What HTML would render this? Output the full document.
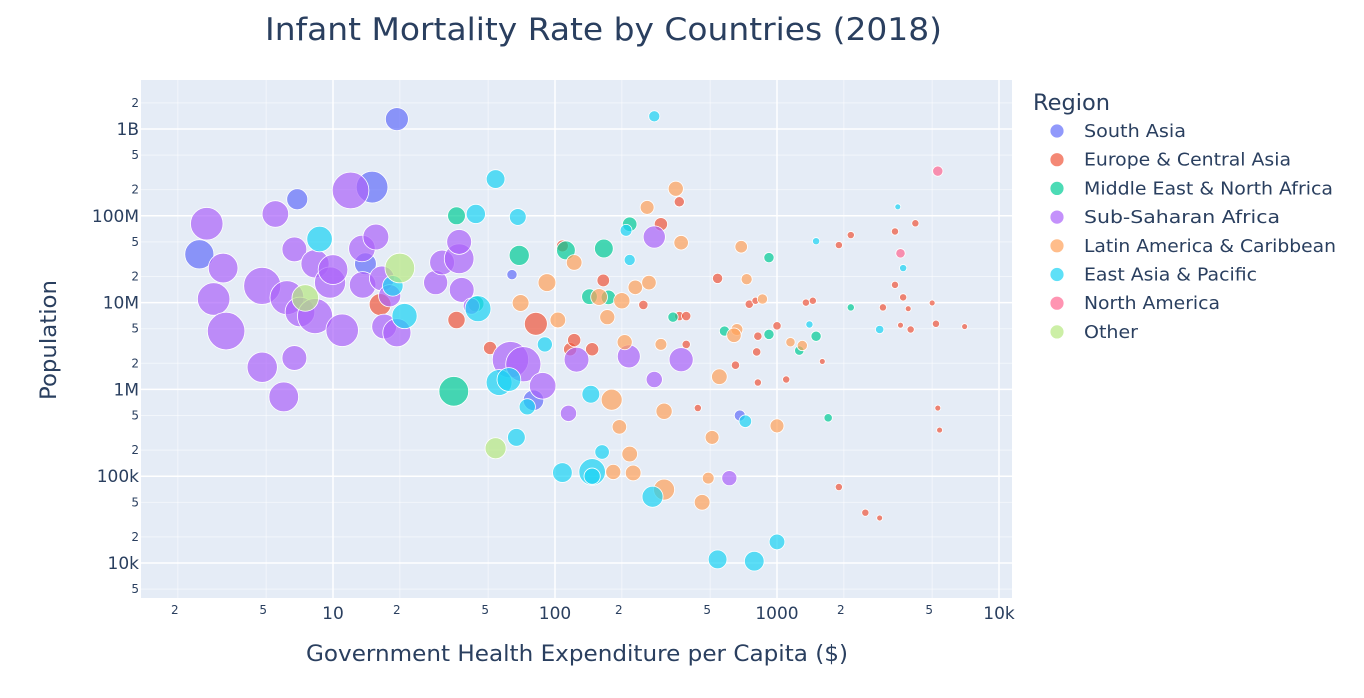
<!DOCTYPE html>
<html><head><meta charset="utf-8">
<style>
body{margin:0;background:#fff;}
svg{display:block;font-family:"DejaVu Sans","Liberation Sans",sans-serif;}
</style></head>
<body>
<svg id="chart" width="1364" height="698">
<rect x="0" y="0" width="1364" height="698" fill="#fff"/>
<rect x="141" y="80" width="871" height="518" fill="#E5ECF6"/>
<defs><clipPath id="clip"><rect x="141" y="80" width="871" height="518"/></clipPath></defs>
<g id="grid"></g>
<g id="marks" clip-path="url(#clip)"></g>
<g id="ticks"></g>
<text x="265" y="40" textLength="677" lengthAdjust="spacingAndGlyphs" font-size="31" fill="#2a3f5f">Infant Mortality Rate by Countries (2018)</text>
<text x="306" y="661" textLength="542" lengthAdjust="spacingAndGlyphs" font-size="22" fill="#2a3f5f">Government Health Expenditure per Capita ($)</text>
<text transform="translate(56,400) rotate(-90)" textLength="120" lengthAdjust="spacingAndGlyphs" font-size="22" fill="#2a3f5f">Population</text>
<text x="1033" y="110" textLength="77" lengthAdjust="spacingAndGlyphs" font-size="22" fill="#2a3f5f">Region</text>
<g id="legend"></g>
</svg>
<script>
const regions = ["South Asia","Europe & Central Asia","Middle East & North Africa","Sub-Saharan Africa","Latin America & Caribbean","East Asia & Pacific","North America","Other"];
const colors = ["#636efa","#EF553B","#00cc96","#ab63fa","#FFA15A","#19d3f3","#FF6692","#B6E880"];
const legendWidths = [102,207,249,196,252,173,136,54];
// each series: [expenditure, population, infant mortality]
const southAsia = [[19.4,1.3e9,30],[15,2.14e8,57],[6.9,1.55e8,25],[2.5,3.6e7,48],[14,2.8e7,27],[64,2.1e7,6],[680,5e5,7],[80,7.5e5,24]];
const europe = [[16.3,9.5e6,27],[36,6.3e6,17],[82,5.7e6,30],[51,3e6,10],[117,2.9e6,10],[147,2.9e6,10],[122,3.7e6,10],[108,4.5e7,8],[165,1.8e7,9],[300,8e7,10],[363,1.45e8,6],[250,9.4e6,5],[363,7e6,5],[390,7e6,5],[540,1.9e7,6],[750,9.6e6,4],[800,1.05e7,3],[1000,5.4e6,4],[1350,1e7,3],[1450,1.05e7,3],[820,4.1e6,4],[810,2.7e6,4],[650,1.9e6,4],[820,1.2e6,3],[1100,1.3e6,3],[1600,2.1e6,2],[1900,4.6e7,3],[2150,6e7,3],[3400,6.6e7,3],[4200,8.2e7,3],[3000,8.8e6,3],[3400,1.6e7,3],[3700,1.15e7,3],[3900,8.5e6,2],[3600,5.5e6,2],[4000,4.9e6,3],[5000,9.9e6,2],[5200,5.7e6,3],[7000,5.3e6,2],[5300,6.1e5,2],[5400,3.4e5,2],[1900,7.5e4,3],[2500,3.8e4,3],[2900,3.3e4,2],[440,6.1e5,3],[390,3.3e6,4]];
const mena = [[36,1e8,18],[217,8e7,12],[69,3.5e7,23],[112,4e7,20],[166,4.2e7,20],[35,9.5e5,50],[44,9.7e6,15],[143,1.17e7,14],[174,1.15e7,12],[340,6.8e6,6],[580,4.7e6,6],[920,3.3e7,6],[920,4.3e6,6],[1260,2.8e6,5],[1500,4.1e6,6],[2150,8.8e6,3],[1700,4.7e5,4]];
const ssa = [[2.7,8.1e7,60],[5.5,1.05e8,40],[12,1.96e8,76],[3.2,2.5e7,50],[2.9,1.1e7,60],[3.3,4.7e6,80],[4.8,1.56e7,78],[4.8,1.8e6,52],[6.0,8.2e5,50],[6.7,2.3e6,35],[6.7,4.1e7,35],[6.2,1.14e7,65],[7.1,7.8e6,50],[8.3,2.8e7,45],[8.3,7e6,70],[9.7,1.7e7,55],[10,2.4e7,50],[11,4.8e6,60],[13.5,4.2e7,40],[15.6,5.7e7,38],[13.6,1.6e7,40],[16.6,1.9e7,35],[17,5.3e6,35],[18,1.2e7,28],[19.4,4.5e6,45],[29,1.7e7,33],[31,2.9e7,35],[37,3.2e7,50],[37,5e7,35],[38,1.4e7,35],[42,9.1e6,15],[63,2.2e6,75],[72,1.95e6,70],[88,1.1e6,40],[125,2.2e6,35],[215,2.4e6,30],[115,5.3e5,15],[280,1.3e6,15],[370,2.2e6,33],[280,5.7e7,28],[610,9.5e4,13]];
const latam = [[350,2.05e8,13],[260,1.25e8,11],[370,4.9e7,12],[690,4.4e7,9],[122,2.9e7,14],[230,1.5e7,12],[265,1.7e7,12],[92,1.7e7,18],[70,9.9e6,16],[103,6.3e6,14],[158,1.16e7,16],[200,1.05e7,15],[172,6.8e6,13],[206,3.5e6,13],[660,4.9e6,8],[730,1.86e7,7],[860,1.1e7,6],[1150,3.5e6,5],[550,1.4e6,14],[180,7.6e5,25],[310,5.6e5,15],[195,3.7e5,12],[510,2.8e5,11],[1000,3.8e5,11],[217,1.8e5,14],[225,1.09e5,14],[183,1.12e5,13],[310,7e4,25],[460,5e4,14],[490,9.5e4,8],[300,3.3e6,8],[640,4.2e6,12],[1300,3.2e6,6]];
const eastAsia = [[280,1.4e9,7],[54,2.65e8,20],[44,1.05e8,21],[68,9.7e7,16],[209,6.8e7,8],[217,3.1e7,7],[8.7,5.4e7,37],[21,7e6,36],[18.6,1.56e7,24],[45,8.5e6,38],[56,1.2e6,38],[62,1.3e6,32],[90,3.3e6,13],[75,6.3e5,15],[145,8.8e5,18],[67,2.8e5,18],[163,1.9e5,12],[108,1.1e5,22],[147,1.12e5,40],[147,1e5,15],[275,5.8e4,25],[720,4.3e5,9],[540,1.1e4,20],[790,1.05e4,22],[1000,1.75e4,14],[2900,4.9e6,4],[1400,5.6e6,3],[3500,1.27e8,2],[3700,2.5e7,3],[1500,5.1e7,3]];
const northAmerica = [[5300,3.27e8,6],[3600,3.7e7,5]];
const other = [[20,2.5e7,50],[7.5,1.13e7,40],[54,2.1e5,25]];
const seriesList = [southAsia,europe,mena,ssa,latam,eastAsia,northAmerica,other];
const xMajorTicks = [10,100,1000,10000];
const xMajorLabels = ["10","100","1000","10k"];
const yMajorTicks = [1e4,1e5,1e6,1e7,1e8,1e9];
const yMajorLabels = ["10k","100k","1M","10M","100M","1B"];

const NS="http://www.w3.org/2000/svg";
function xs(v){return 111+222*Math.log10(v);}
function ys(v){return 563-86.8*(Math.log10(v)-4);}
function rs(m){return 2.1*Math.sqrt(m);}
function mk(tag,attrs,parent){const e=document.createElementNS(NS,tag);for(const k in attrs)e.setAttribute(k,attrs[k]);parent.appendChild(e);return e;}
const grid=document.getElementById('grid'),ticks=document.getElementById('ticks'),marks=document.getElementById('marks'),legend=document.getElementById('legend');
for(let d=1;d<=4;d++){
  const base=Math.pow(10,d-1);
  [2,5].forEach(m=>{const v=base*m, px=xs(v);
    if(px>141&&px<1012){
      const l=mk('line',{x1:px,x2:px,y1:80,y2:598,stroke:'#fff','stroke-width':1,'stroke-opacity':0.5},grid);
      
      
      const t=mk('text',{x:px-3,y:614,'text-anchor':'middle','font-size':12,fill:'#2a3f5f'},ticks);
      t.textContent=String(m);
      
      
    }});
}
xMajorTicks.forEach((v,i)=>{const px=xs(v);
  const l=mk('line',{x1:px,x2:px,y1:80,y2:598,stroke:'#fff','stroke-width':1.5},grid);
  
  
  const t=mk('text',{x:px,y:619,'text-anchor':'middle','font-size':17,fill:'#2a3f5f'},ticks);
  t.textContent=xMajorLabels[i];
  
  
});
for(let d=3;d<=9;d++){
  const base=Math.pow(10,d);
  [2,5].forEach(m=>{const v=base*m, py=ys(v);
    if(py>80&&py<598){
      const l=mk('line',{x1:141,x2:1012,y1:py,y2:py,stroke:'#fff','stroke-width':1,'stroke-opacity':0.5},grid);
      
      
      const t=mk('text',{x:139,y:py+4,'text-anchor':'end','font-size':12,fill:'#2a3f5f'},ticks);
      t.textContent=String(m);
      
      
    }});
}
yMajorTicks.forEach((v,i)=>{const py=ys(v);
  const l=mk('line',{x1:141,x2:1012,y1:py,y2:py,stroke:'#fff','stroke-width':1.5},grid);
  
  
  const t=mk('text',{x:139,y:py+6,'text-anchor':'end','font-size':17,fill:'#2a3f5f'},ticks);
  t.textContent=yMajorLabels[i];
  
  
});
seriesList.forEach((s,si)=>{
  s.forEach(p=>{
    const c=mk('circle',{cx:xs(p[0]),cy:ys(p[1]),r:rs(p[2]),fill:colors[si],'fill-opacity':0.7,stroke:'#fff','stroke-width':0.8},marks);
    
    
  });
});
regions.forEach((r,i)=>{
  const y=131+28.7*i;
  const g=mk('g',{},legend);
  
  
  mk('circle',{cx:1057,cy:y,r:7,fill:colors[i],'fill-opacity':0.7,stroke:'#fff','stroke-width':0.8},g);
  const t=mk('text',{x:1084,y:y+6,'font-size':18,fill:'#2a3f5f',textLength:legendWidths[i],lengthAdjust:'spacingAndGlyphs'},g);
  t.textContent=r;
});
</script>
</body></html>
